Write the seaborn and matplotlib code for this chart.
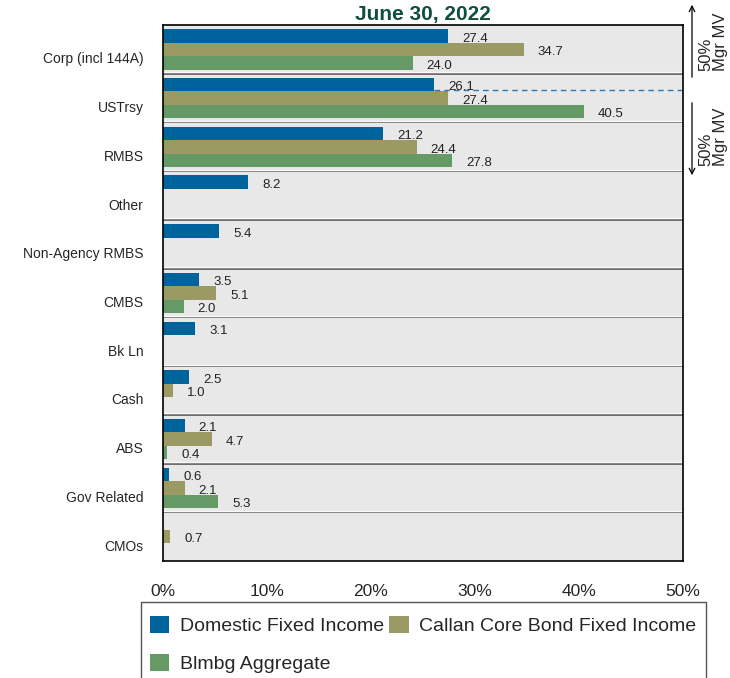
import numpy as np
import pandas as pd
import matplotlib
matplotlib.use('Agg')
import matplotlib.pyplot as plt
import matplotlib.transforms as mtransforms
from matplotlib.patches import Patch, Rectangle
import seaborn as sns

# data
categories = ['Corp (incl 144A)', 'USTrsy', 'RMBS', 'Other', 'Non-Agency RMBS', 'CMBS',
              'Bk Ln', 'Cash', 'ABS', 'Gov Related', 'CMOs']
series = ['Domestic Fixed Income', 'Callan Core Bond Fixed Income', 'Blmbg Aggregate']
domestic = [27.4, 26.1, 21.2, 8.2, 5.4, 3.5, 3.1, 2.5, 2.1, 0.6, np.nan]
callan = [34.7, 27.4, 24.4, np.nan, np.nan, 5.1, np.nan, 1.0, 4.7, 2.1, 0.7]
blmbg = [24.0, 40.5, 27.8, np.nan, np.nan, 2.0, np.nan, np.nan, 0.4, 5.3, np.nan]
xticks = [0, 10, 20, 30, 40, 50]

colors = ['#00649c', '#9c9a64', '#659a67']

df = pd.DataFrame({
    'category': categories * 3,
    'series': [series[0]] * 11 + [series[1]] * 11 + [series[2]] * 11,
    'value': domestic + callan + blmbg,
})

sns.set_style('white')
plt.rcParams['font.family'] = ['Liberation Sans', 'DejaVu Sans']

fig = plt.figure(figsize=(7.3, 6.78), dpi=100)
ax = fig.add_axes([163 / 730, 1 - 561 / 678, 520 / 730, 536 / 678])
ax.set_facecolor('#e8e8e8')

sns.barplot(data=df, y='category', x='value', hue='series', order=categories,
            hue_order=series, palette=colors, orient='h', width=0.83,
            saturation=1, linewidth=0, legend=False, ax=ax)

# value labels
for cont in ax.containers:
    for bar in cont:
        w = bar.get_width()
        if np.isnan(w):
            continue
        y = bar.get_y() + bar.get_height() / 2
        ax.annotate(f'{w:.1f}', xy=(w, y), xytext=(10, -2), textcoords='offset points',
                    ha='left', va='center', fontsize=9.5, color='#222222')

# separators between groups
for i in range(len(categories) - 1):
    ax.axhline(i + 0.5, color='#4a4a4a', lw=1.1, zorder=0.5)
    ax.axhline(i + 0.47, color='#fafafa', lw=1.0, zorder=0.5)

# dashed line from the USTrsy bar
ax.plot([domestic[1], 50], [0.83, 0.83], ls=(0, (4, 3)), color='#2a7ab8', lw=1)

ax.set_xlim(0, 50)
ax.set_ylim(len(categories) - 0.5, -0.5)
ax.set_xticks(xticks)
ax.set_xticklabels([f'{t}%' for t in xticks], fontsize=12.5)
ax.tick_params(axis='x', direction='out', length=6.5, width=1, color='#444444', pad=10)
ax.tick_params(axis='y', length=0, pad=14, labelsize=10)
ax.set_xlabel('')
ax.set_ylabel('')
for lab in ax.get_yticklabels():
    lab.set_transform(lab.get_transform() +
                      mtransforms.ScaledTranslation(0, -8.5 / 100, fig.dpi_scale_trans))
for s in ax.spines.values():
    s.set_visible(True)
    s.set_color('black')
    s.set_linewidth(1.2)

# title
fig.text(423 / 730, 1 - 20 / 678, 'June 30, 2022', ha='center', va='baseline',
         fontsize=15, fontweight='bold', color='#0f4f3f')

# right side annotations
ax.annotate('', xy=(692, 678 - 2), xytext=(692, 678 - 80), xycoords='figure pixels',
            textcoords='figure pixels', arrowprops=dict(arrowstyle='->', lw=0.9, color='black'))
ax.annotate('', xy=(692, 678 - 178), xytext=(692, 678 - 100), xycoords='figure pixels',
            textcoords='figure pixels', arrowprops=dict(arrowstyle='->', lw=0.9, color='black'))
fig.text(713 / 730, 1 - 41.5 / 678, '50%\nMgr MV', rotation=90, ha='center', va='center',
         multialignment='left', fontsize=12, linespacing=0.95)
fig.text(713 / 730, 1 - 136.5 / 678, '50%\nMgr MV', rotation=90, ha='center', va='center',
         multialignment='left', fontsize=12, linespacing=0.95)

# legend box (runs off the bottom edge like the original)
fig.patches.append(Rectangle((141, 678 - 602), 565, -90, transform=None, fill=False,
                             edgecolor='#555555', lw=1))

# legend filled row by row: Domestic, Callan / Blmbg
handles = [Patch(facecolor=c, edgecolor='none') for c in colors]
order = [0, 2, 1]
leg = fig.legend([handles[i] for i in order], [series[i] for i in order], loc='upper left',
                 bbox_to_anchor=(150 / 730, 1 - 616 / 678),
                 ncol=2, fontsize=14, frameon=False, handlelength=1.0,
                 handleheight=1.0, handletextpad=0.55, columnspacing=0.25, labelspacing=0.95,
                 borderpad=0, borderaxespad=0)

fig.savefig('out.png', dpi=100)
